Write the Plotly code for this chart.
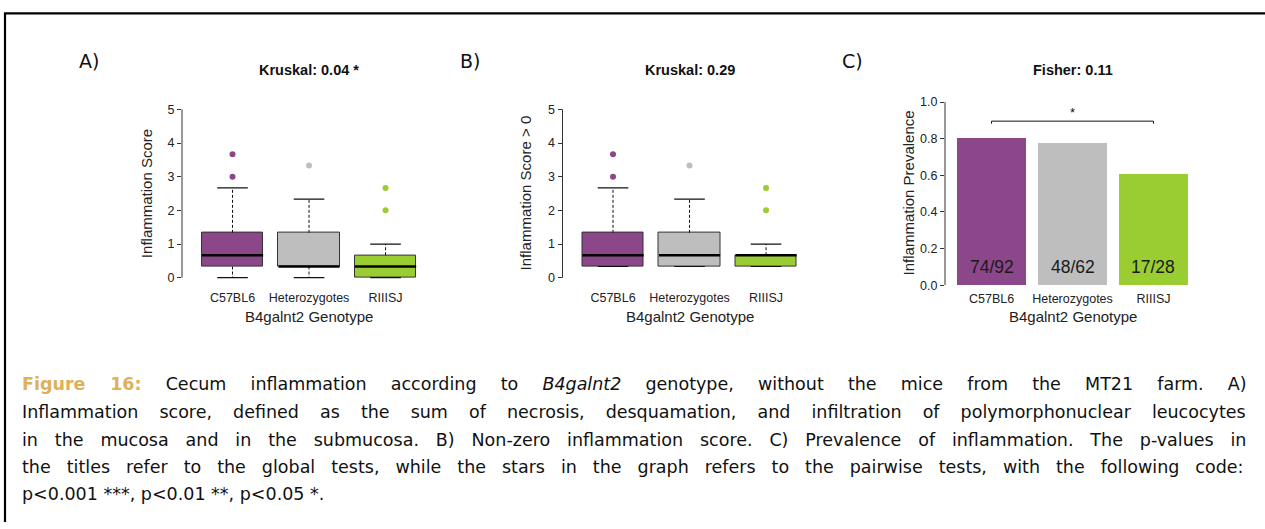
import plotly.graph_objects as go

W, H = 1265, 529

genotypes = ["C57BL6", "Heterozygotes", "RIIISJ"]
colors = ["#8B4789", "#BEBEBE", "#9ACD32"]

# Panel A: inflammation score (box statistics)
a_lower = [0.0, 0.0, 0.0]
a_q1 = [0.333, 0.333, 0.0]
a_median = [0.667, 0.333, 0.333]
a_q3 = [1.333, 1.333, 0.667]
a_upper = [2.667, 2.333, 1.0]
a_outliers = [[3.0, 3.667], [3.333], [2.0, 2.667]]

# Panel B: non-zero inflammation score
b_lower = [0.333, 0.333, 0.333]
b_q1 = [0.333, 0.333, 0.333]
b_median = [0.667, 0.667, 0.667]
b_q3 = [1.333, 1.333, 0.667]
b_upper = [2.667, 2.333, 1.0]
b_outliers = [[3.0, 3.667], [3.333], [2.0, 2.667]]

# Panel C: prevalence
c_inflamed = [74, 48, 17]
c_total = [92, 62, 28]
c_prev = [i / t for i, t in zip(c_inflamed, c_total)]

score_ticks = [0, 1, 2, 3, 4, 5]
prev_ticks = [0.0, 0.2, 0.4, 0.6, 0.8, 1.0]
prev_ticktext = ["0.0", "0.2", "0.4", "0.6", "0.8", "1.0"]

titles = ["Kruskal: 0.04 *", "Kruskal: 0.29", "Fisher: 0.11"]
ytitles = ["Inflammation Score", "Inflammation Score &gt; 0", "Inflammation Prevalence"]
xtitle = "B4galnt2 Genotype"
panel_letters = ["A)", "B)", "C)"]

caption_lines = [
    '<span style="color:#DDB15A"><b>Figure 16:</b></span> Cecum inflammation according to <i>B4galnt2</i> genotype, without the mice from the MT21 farm. A)',
    "Inflammation score, defined as the sum of necrosis, desquamation, and infiltration of polymorphonuclear leucocytes",
    "in the mucosa and in the submucosa. B) Non-zero inflammation score. C) Prevalence of inflammation. The p-values in",
    "the titles refer to the global tests, while the stars in the graph refers to the pairwise tests, with the following code:",
    "p&lt;0.001 ***, p&lt;0.01 **, p&lt;0.05 *.",
]
caption_wordspacing = [18.6, 15.5, 11.3, 10.4, None]

TICKFONT = dict(family="Liberation Sans, Arial, sans-serif", size=12.5, color="#222222")
CAPFONT = "DejaVu Sans, sans-serif"


def px(x):
    return x / W


def py(y):
    return 1 - y / H


fig = go.Figure()


def add_boxes(xa, ya, lower, q1, med, q3, upper, outl):
    xs = [1, 2, 3]
    fig.add_trace(go.Bar(
        x=xs, y=[b - a for a, b in zip(q1, q3)], base=q1, width=0.8,
        marker=dict(color=colors, line=dict(color="#333333", width=1)),
        xaxis=xa, yaxis=ya, showlegend=False, hoverinfo="skip"))
    wx, wy, cx, cy, mx, my = [], [], [], [], [], []
    for i, x in enumerate(xs):
        wx += [x, x, None, x, x, None]
        wy += [q3[i], upper[i], None, q1[i], lower[i], None]
        cx += [x - 0.2, x + 0.2, None, x - 0.2, x + 0.2, None]
        cy += [upper[i], upper[i], None, lower[i], lower[i], None]
        mx += [x - 0.4, x + 0.4, None]
        my += [med[i], med[i], None]
    fig.add_trace(go.Scatter(x=wx, y=wy, mode="lines", line=dict(color="#111111", width=1, dash="3px,2px"),
                             xaxis=xa, yaxis=ya, showlegend=False, hoverinfo="skip"))
    fig.add_trace(go.Scatter(x=cx, y=cy, mode="lines", line=dict(color="#111111", width=1.2),
                             xaxis=xa, yaxis=ya, showlegend=False, hoverinfo="skip"))
    fig.add_trace(go.Scatter(x=mx, y=my, mode="lines", line=dict(color="#000000", width=2.5),
                             xaxis=xa, yaxis=ya, showlegend=False, hoverinfo="skip"))
    for i, x in enumerate(xs):
        fig.add_trace(go.Scatter(x=[x] * len(outl[i]), y=outl[i], mode="markers",
                                 marker=dict(color=colors[i], size=6),
                                 xaxis=xa, yaxis=ya, showlegend=False, hoverinfo="skip"))


add_boxes("x", "y", a_lower, a_q1, a_median, a_q3, a_upper, a_outliers)
add_boxes("x2", "y2", b_lower, b_q1, b_median, b_q3, b_upper, b_outliers)

fig.add_trace(go.Bar(
    x=[1, 2, 3], y=c_prev, width=0.845, marker=dict(color=colors, line=dict(width=0)),
    xaxis="x3", yaxis="y3", showlegend=False, hoverinfo="skip"))
# significance bracket C57BL6 vs RIIISJ
fig.add_trace(go.Scatter(x=[1, 1, 3, 3], y=[0.882, 0.896, 0.896, 0.882], mode="lines",
                         line=dict(color="#111111", width=1), xaxis="x3", yaxis="y3",
                         showlegend=False, hoverinfo="skip"))

# axes
box_xdom = [(182, 433), (562.5, 813.5)]
for k, (x0, x1) in enumerate(box_xdom):
    sfx = "" if k == 0 else str(k + 1)
    fig.update_layout(**{
        "xaxis" + sfx: dict(domain=[px(x0), px(x1)], range=[0.34, 3.62], tickvals=[1, 2, 3],
                            ticktext=genotypes, ticks="", showline=False, showgrid=False,
                            zeroline=False, tickfont=TICKFONT, ticklabelstandoff=4,
                            anchor="y" + sfx, fixedrange=True),
        "yaxis" + sfx: dict(domain=[py(285), py(98.2)], range=[-0.2, 5.2], tickvals=score_ticks,
                            ticks="outside", ticklen=4, tickwidth=1, tickcolor="#333333",
                            showline=False, showgrid=False, zeroline=False, tickfont=TICKFONT,
                            anchor="x" + sfx, fixedrange=True),
    })
fig.update_layout(
    xaxis3=dict(domain=[px(945), px(1200)], range=[0.425, 3.575], tickvals=[1, 2, 3],
                ticktext=genotypes, ticks="", showline=False, showgrid=False, zeroline=False,
                tickfont=TICKFONT, ticklabelstandoff=4, anchor="y3", fixedrange=True),
    yaxis3=dict(domain=[py(285.7), py(97.7)], range=[0, 1], tickvals=prev_ticks,
                ticktext=prev_ticktext, ticks="outside", ticklen=4, tickwidth=1,
                tickcolor="#333333", showline=False, showgrid=False, zeroline=False,
                tickfont=TICKFONT, anchor="x3", fixedrange=True),
)

shapes = []
for sfx, ticks in [("", score_ticks), ("2", score_ticks), ("3", prev_ticks)]:
    shapes.append(dict(type="line", xref="x" + sfx + " domain", yref="y" + sfx,
                       x0=0, x1=0, y0=min(ticks), y1=max(ticks),
                       line=dict(color="#333333", width=1)))
# page frame (top and left rules)
shapes.append(dict(type="line", xref="paper", yref="paper", x0=px(4), x1=1, y0=py(6.5), y1=py(6.5),
                   line=dict(color="#000000", width=2.2)))
shapes.append(dict(type="line", xref="paper", yref="paper", x0=px(5), x1=px(5), y0=py(6.5), y1=0,
                   line=dict(color="#000000", width=2.2)))

ann = []
title_font = dict(family="Liberation Sans, Arial, sans-serif", size=14.5, color="#111111")
axis_title_font = dict(family="Liberation Sans, Arial, sans-serif", size=15, color="#222222")
for k, sfx in enumerate(["", "2", "3"]):
    ann.append(dict(text="<b>" + titles[k] + "</b>", xref="x" + sfx, x=2, yref="paper", y=py(64.5),
                    showarrow=False, font=title_font, xanchor="center", yanchor="middle"))
    ann.append(dict(text=xtitle, xref="x" + sfx, x=2, yref="paper", y=py(318),
                    showarrow=False, font=axis_title_font, xanchor="center", yanchor="middle"))
ytitle_x = [146.7, 525, 908]
for k in range(3):
    ann.append(dict(text=ytitles[k], xref="paper", x=px(ytitle_x[k]), yref="paper", y=py(191.5),
                    textangle=-90, showarrow=False, font=axis_title_font,
                    xanchor="center", yanchor="middle"))
letter_x = [89, 470, 852]
for k in range(3):
    ann.append(dict(text=panel_letters[k], xref="paper", x=px(letter_x[k]), yref="paper", y=py(55),
                    showarrow=False, font=dict(family=CAPFONT, size=19, color="#111111"),
                    xanchor="center", yanchor="middle"))
for i in range(3):
    ann.append(dict(text=f"{c_inflamed[i]}/{c_total[i]}", xref="x3", x=i + 1, yref="y3", y=0.098,
                    showarrow=False, font=dict(family="Liberation Sans, Arial, sans-serif", size=17.5,
                                               color="#1a1a1a"),
                    xanchor="center", yanchor="middle"))
ann.append(dict(text="*", xref="x3", x=2, yref="y3", y=0.945, showarrow=False,
                font=dict(family="Liberation Sans, Arial, sans-serif", size=13, color="#111111"),
                xanchor="center", yanchor="middle"))

cap_y = [387.5, 416, 444.5, 472.5, 500.5]
for j, line in enumerate(caption_lines):
    ws = caption_wordspacing[j]
    txt = line if ws is None else f'<span style="word-spacing:{ws}px">{line}</span>'
    ann.append(dict(text=txt, xref="paper", x=px(20), yref="paper", y=py(cap_y[j]),
                    showarrow=False, font=dict(family=CAPFONT, size=17.5, color="#111111"),
                    xanchor="left", yanchor="middle", align="left"))

fig.update_layout(
    width=W, height=H, margin=dict(l=0, r=0, t=0, b=0),
    paper_bgcolor="white", plot_bgcolor="white",
    shapes=shapes, annotations=ann, bargap=0, showlegend=False,
)

fig.write_html("out.html", config={"displayModeBar": False})
